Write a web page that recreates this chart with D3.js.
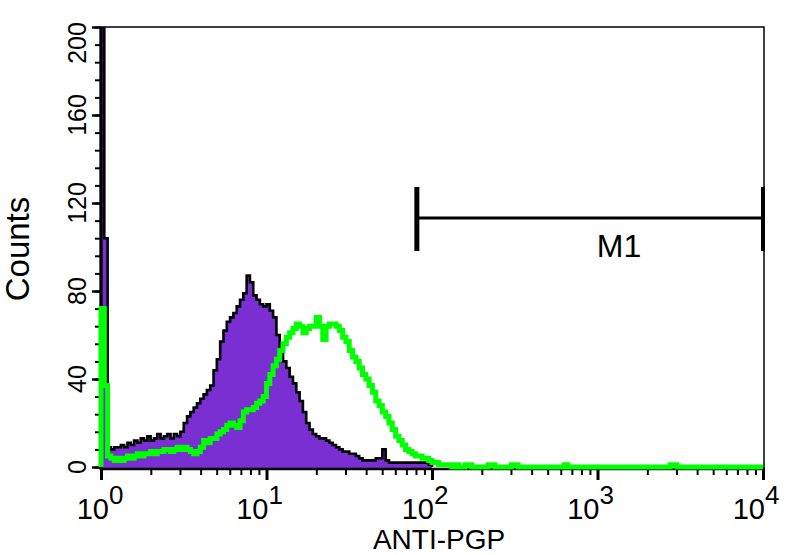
<!DOCTYPE html>
<html>
<head>
<meta charset="utf-8">
<script src="https://cdn.jsdelivr.net/npm/d3@7"></script>
<style>
  body { margin: 0; background: #fff; }
  text { font-family: "Liberation Sans", Arial, sans-serif; fill: #000; }
</style>
</head>
<body>
<div id="my_dataviz"></div>
<script>
// histogram counts per channel, 50 channels per decade starting at 10^0
var purpleCounts = [
  300, 104, 9, 8, 9, 9, 10, 9, 11, 10, 12, 11, 13, 12, 14, 12, 13, 15, 13, 14,
  15, 13, 15, 14, 16, 20, 23, 25, 27, 29, 31, 33, 35, 37, 44, 49, 57, 62, 66, 68,
  70, 73, 76, 79, 87, 84, 78, 76, 74, 73, 74, 71, 68, 60, 52, 48, 45, 41, 38, 34,
  30, 25, 20, 17, 15, 14, 13, 13, 12, 11, 10, 9, 8, 7, 7, 6, 6, 5, 4, 3,
  3, 3, 3, 4, 4, 8, 3, 2, 2, 2, 2, 2, 2, 2, 2, 2, 2, 2, 2, 1
]
var greenCounts = [
  72, 37, 5, 4, 3, 4, 3, 4, 5, 4, 5, 6, 5, 6, 6, 7, 6, 7, 7, 8,
  8, 7, 8, 9, 8, 9, 8, 7, 6, 7, 9, 12, 11, 13, 13, 15, 16, 17, 19, 20,
  19, 18, 21, 25, 26, 26, 27, 29, 30, 32, 38, 42, 46, 49, 53, 56, 59, 61, 63, 65,
  64, 61, 63, 64, 64, 68, 64, 58, 64, 65, 65, 64, 62, 59, 57, 53, 50, 48, 45, 42,
  40, 37, 34, 30, 28, 25, 23, 20, 17, 14, 12, 10, 8, 7, 6, 5, 5, 4, 4, 3,
  2, 2, 1, 1, 1, 1, 0, 1, 0, 0, 1, 1, 0, 0, 0, 0, 0, 1, 1, 0,
  0, 0, 0, 0, 1, 1, 0, 0, 0, 0, 0, 0, 0, 0, 0, 0, 0, 0, 0, 0,
  1, 0, 0, 0, 0, 0, 0, 0, 0, 0, 0, 0, 0, 0, 0, 0, 0, 0, 0, 0,
  0, 0, 0, 0, 0, 0, 0, 0, 0, 0, 0, 0, 1, 1, 0, 0, 0, 0, 0, 0,
  0, 0, 0, 0, 0, 0, 0, 0, 0, 0, 0, 0, 0, 0, 0, 0, 0, 0, 0, 0
]
var yTicks = [0, 40, 80, 120, 160, 200]
var yMinorStep = 8
var xDecades = [1, 10, 100, 1000, 10000]
var markerRange = [81, 10000]
var markerName = "M1"
var markerNameAt = 1350
var xTitle = "ANTI-PGP"
var yTitle = "Counts"

var width = 787
var height = 555
var channelsPerDecade = 50

var svg = d3.select("#my_dataviz")
  .append("svg")
    .attr("width", width)
    .attr("height", height)

var x = d3.scaleLog().domain([1, 10000]).range([101, 763])
var y = d3.scaleLinear().domain([0, 200]).range([467, 27])

function edge(i) { return Math.pow(10, i / channelsPerDecade) }

// step points for a channel histogram
function stepPoints(counts) {
  var pts = [[edge(0), 0]]
  counts.forEach(function(c, i) { pts.push([edge(i), c]) })
  pts.push([edge(counts.length), counts[counts.length - 1]])
  pts.push([edge(counts.length), 0])
  return pts
}

svg.append("clipPath").attr("id", "plotclip")
  .append("rect")
    .attr("x", 98).attr("y", 27)
    .attr("width", 667).attr("height", 444)

var area = d3.area()
  .x(function(d) { return x(d[0]) })
  .y0(y(0) + 2)
  .y1(function(d) { return y(d[1]) })
  .curve(d3.curveStepAfter)

var line = d3.line()
  .x(function(d) { return x(d[0]) })
  .y(function(d) { return y(d[1]) })
  .curve(d3.curveStepAfter)

// purple histogram with black outline
var plot = svg.append("g").attr("clip-path", "url(#plotclip)")
var purplePts = stepPoints(purpleCounts)
plot.append("path")
  .attr("d", area(purplePts))
  .attr("fill", "#7a2fd2")
plot.append("path")
  .attr("d", line(purplePts))
  .attr("fill", "none")
  .attr("stroke", "#000")
  .attr("stroke-width", 2.6)

// frame
svg.append("path")
  .attr("d", "M101,27H764V470")
  .attr("fill", "none")
  .attr("stroke", "#000")
  .attr("stroke-width", 1.5)

// y axis
var yMinor = d3.range(0, 201, yMinorStep)
svg.append("g")
  .attr("transform", "translate(101,0)")
  .call(d3.axisLeft(y).tickValues(yMinor).tickSize(6).tickSizeOuter(0).tickFormat(""))
  .call(function(g) { g.selectAll(".tick line").attr("stroke-width", 2) })
  .call(function(g) { g.select(".domain").attr("stroke-width", 3).attr("d", "M0,27V470") })
svg.append("g")
  .attr("transform", "translate(101,0)")
  .call(d3.axisLeft(y).tickValues(yTicks).tickSize(9).tickSizeOuter(0).tickFormat(""))
  .call(function(g) { g.selectAll(".tick line").attr("stroke-width", 2.5) })
  .call(function(g) { g.select(".domain").remove() })

svg.selectAll(".ylab")
  .data(yTicks)
  .enter()
  .append("text")
    .attr("class", "ylab")
    .attr("transform", function(d) { return "translate(86," + Math.max(y(d), 43) + ") rotate(-90)" })
    .attr("text-anchor", "middle")
    .style("font-size", "25px")
    .text(function(d) { return d })

// x axis
var xMinor = []
xDecades.slice(0, -1).forEach(function(dec) {
  for (var k = 2; k <= 9; k++) xMinor.push(dec * k)
})
svg.append("g")
  .attr("transform", "translate(0,469)")
  .call(d3.axisBottom(x).tickValues(xMinor).tickSize(6).tickSizeOuter(0).tickFormat(""))
  .call(function(g) { g.selectAll(".tick line").attr("stroke-width", 2) })
  .call(function(g) { g.select(".domain").attr("stroke-width", 2.5).attr("d", "M100,0H765") })
svg.append("g")
  .attr("transform", "translate(0,469)")
  .call(d3.axisBottom(x).tickValues(xDecades).tickSize(11).tickSizeOuter(0).tickFormat(""))
  .call(function(g) { g.selectAll(".tick line").attr("stroke-width", 3) })
  .call(function(g) { g.select(".domain").remove() })

// green histogram line drawn over the axes
svg.append("g").attr("clip-path", "url(#plotclip)")
  .append("path")
    .attr("d", line(stepPoints(greenCounts)))
    .attr("fill", "none")
    .attr("stroke", "#00ff00")
    .attr("stroke-width", 5)

var xlab = svg.selectAll(".xlab")
  .data(xDecades)
  .enter()
  .append("text")
    .attr("class", "xlab")
    .attr("x", function(d) { return Math.max(x(d) - 7, 100) })
    .attr("y", 519)
    .attr("text-anchor", "middle")
    .style("font-size", "29px")
xlab.append("tspan").text("10")
xlab.append("tspan")
  .attr("dy", -15)
  .style("font-size", "26px")
  .text(function(d) { return Math.round(Math.log10(d)) })

// axis titles
svg.append("text")
  .attr("x", 439).attr("y", 549)
  .attr("text-anchor", "middle")
  .style("font-size", "28px")
  .text(xTitle)
svg.append("text")
  .attr("transform", "translate(29,249) rotate(-90)")
  .attr("text-anchor", "middle")
  .style("font-size", "33px")
  .text(yTitle)

// marker M1
var my = 218
svg.append("line")
  .attr("x1", x(markerRange[0])).attr("x2", x(markerRange[1]))
  .attr("y1", my).attr("y2", my)
  .attr("stroke", "#000").attr("stroke-width", 3)
svg.append("line")
  .attr("x1", x(markerRange[0])).attr("x2", x(markerRange[0]))
  .attr("y1", my - 31).attr("y2", my + 33)
  .attr("stroke", "#000").attr("stroke-width", 5)
svg.append("line")
  .attr("x1", x(markerRange[1])).attr("x2", x(markerRange[1]))
  .attr("y1", my - 31).attr("y2", my + 33)
  .attr("stroke", "#000").attr("stroke-width", 4)
svg.append("text")
  .attr("x", x(markerNameAt)).attr("y", 257)
  .attr("text-anchor", "middle")
  .style("font-size", "32px")
  .text(markerName)
</script>
</body>
</html>
